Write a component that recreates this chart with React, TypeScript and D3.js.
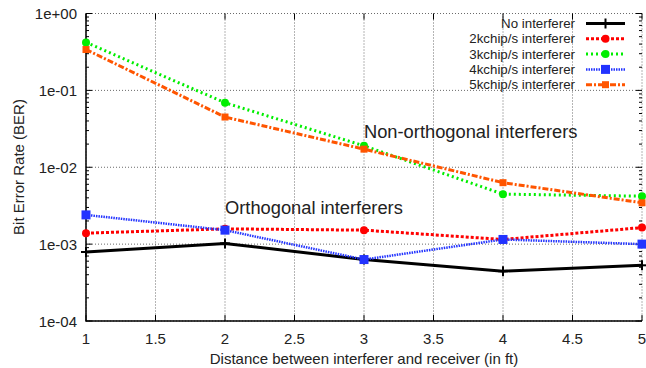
import * as d3 from 'd3';

const distances = [1, 2, 3, 4, 5];
const noInterferer = [7.9e-4, 1.02e-3, 6.3e-4, 4.45e-4, 5.3e-4];
const kchip2 = [1.39e-3, 1.58e-3, 1.52e-3, 1.15e-3, 1.64e-3];
const kchip3 = [0.42, 0.069, 0.019, 4.47e-3, 4.2e-3];
const kchip4 = [2.4e-3, 1.52e-3, 6.3e-4, 1.15e-3, 1.0e-3];
const kchip5 = [0.34, 0.045, 0.0172, 6.3e-3, 3.45e-3];
const xTicks = [1, 1.5, 2, 2.5, 3, 3.5, 4, 4.5, 5];
const yTicks = [1, 1e-1, 1e-2, 1e-3, 1e-4];
const yTickLabels = ['1e+00', '1e-01', '1e-02', '1e-03', '1e-04'];

type Series = {
  name: string;
  values: number[];
  color: string;
  width: number;
  dash: string;
  marker: 'plus' | 'circle' | 'square' | 'smallsquare';
};

const series: Series[] = [
  { name: 'No interferer', values: noInterferer, color: '#000000', width: 3, dash: '', marker: 'plus' },
  { name: '2kchip/s interferer', values: kchip2, color: '#ff0000', width: 3, dash: '3,2', marker: 'circle' },
  { name: '3kchip/s interferer', values: kchip3, color: '#00ee00', width: 3, dash: '2,3', marker: 'circle' },
  { name: '4kchip/s interferer', values: kchip4, color: '#2233ff', width: 2.5, dash: '1.5,1', marker: 'square' },
  { name: '5kchip/s interferer', values: kchip5, color: '#ff5500', width: 3, dash: '6,2,2,2', marker: 'smallsquare' },
];

const W = 646;
const H = 368;
const left = 86;
const right = 642;
const top = 13.5;
const bottom = 321;
const FONT = '"Liberation Sans", Arial, sans-serif';

function Marker({ type, x, y, color }: { type: Series['marker']; x: number; y: number; color: string }) {
  if (type === 'plus') {
    return (
      <g stroke={color} strokeWidth={2}>
        <line x1={x - 5} x2={x + 5} y1={y} y2={y} />
        <line x1={x} x2={x} y1={y - 5} y2={y + 5} />
      </g>
    );
  }
  if (type === 'circle') return <circle cx={x} cy={y} r={4} fill={color} />;
  if (type === 'square') return <rect x={x - 4.5} y={y - 4.5} width={9} height={9} fill={color} />;
  return <rect x={x - 3.5} y={y - 3.5} width={7} height={7} fill={color} />;
}

export default function App() {
  const x = d3.scaleLinear().domain([1, 5]).range([left, right]);
  const y = d3.scaleLog().domain([1e-4, 1]).range([bottom, top]);

  const line = d3
    .line<number>()
    .x((_, i) => x(distances[i]))
    .y((d) => y(d));

  const minorTicks: number[] = [];
  for (let e = -4; e < 0; e++) {
    for (let m = 2; m <= 9; m++) minorTicks.push(m * Math.pow(10, e));
  }

  const legendTextX = 575;
  const legendLineX1 = 586;
  const legendLineX2 = 625;
  const legendY0 = 23.5;
  const legendStep = 15.3;

  return (
    <div style={{ position: 'fixed', left: 0, top: 0 }}>
      <svg width={W} height={H} viewBox={`0 0 ${W} ${H}`} style={{ display: 'block', background: '#fff' }}>
        {/* grid */}
        <g stroke="#444" strokeWidth={0.8} strokeDasharray="1,2">
          {xTicks.map((t) => (
            <line key={'gx' + t} x1={x(t)} x2={x(t)} y1={top} y2={bottom} />
          ))}
          {yTicks.map((t) => (
            <line key={'gy' + t} x1={left} x2={right} y1={y(t)} y2={y(t)} />
          ))}
        </g>

        {/* ticks */}
        <g stroke="#000" strokeWidth={1}>
          {xTicks.map((t) => (
            <g key={'tx' + t}>
              <line x1={x(t)} x2={x(t)} y1={bottom} y2={bottom - 6} />
              <line x1={x(t)} x2={x(t)} y1={top} y2={top + 6} />
            </g>
          ))}
          {yTicks.map((t) => (
            <g key={'ty' + t}>
              <line x1={left} x2={left + 6} y1={y(t)} y2={y(t)} />
              <line x1={right} x2={right - 6} y1={y(t)} y2={y(t)} />
            </g>
          ))}
          {minorTicks.map((t) => (
            <g key={'tm' + t}>
              <line x1={left} x2={left + 3} y1={y(t)} y2={y(t)} />
              <line x1={right} x2={right - 3} y1={y(t)} y2={y(t)} />
            </g>
          ))}
        </g>

        {/* border: left and bottom */}
        <path d={`M${left},${top}V${bottom}H${right}`} fill="none" stroke="#000" strokeWidth={1.5} />

        {/* tick labels */}
        <g fontFamily={FONT} fontSize={15} fill="#222">
          {yTicks.map((t, i) => (
            <text key={'ly' + t} x={77} y={y(t)} textAnchor="end" dominantBaseline="central">
              {yTickLabels[i]}
            </text>
          ))}
          {xTicks.map((t) => (
            <text key={'lx' + t} x={x(t)} y={338} textAnchor="middle" dominantBaseline="central">
              {String(t)}
            </text>
          ))}
        </g>

        {/* axis titles */}
        <text x={364} y={358} fontFamily={FONT} fontSize={15} fill="#222" textAnchor="middle" dominantBaseline="central">
          Distance between interferer and receiver (in ft)
        </text>
        <text
          transform={`translate(18,${167}) rotate(-90)`}
          fontFamily={FONT}
          fontSize={15}
          fill="#222"
          textAnchor="middle"
          dominantBaseline="central"
        >
          Bit Error Rate (BER)
        </text>

        {/* series */}
        {series.map((s) => (
          <g key={s.name}>
            <path d={line(s.values) ?? ''} fill="none" stroke={s.color} strokeWidth={s.width} strokeDasharray={s.dash || undefined} />
            {s.values.map((v, i) => (
              <Marker key={i} type={s.marker} x={x(distances[i])} y={y(v)} color={s.color} />
            ))}
          </g>
        ))}

        {/* annotations */}
        <text x={364} y={131} fontFamily={FONT} fontSize={18.3} fill="#222" dominantBaseline="central">
          Non-orthogonal interferers
        </text>
        <text x={225} y={207} fontFamily={FONT} fontSize={18.3} fill="#222" dominantBaseline="central">
          Orthogonal interferers
        </text>

        {/* legend */}
        {series.map((s, i) => {
          const ly = legendY0 + i * legendStep;
          return (
            <g key={'lg' + s.name}>
              <text x={legendTextX} y={ly} fontFamily={FONT} fontSize={13.3} fill="#222" textAnchor="end" dominantBaseline="central">
                {s.name}
              </text>
              <line x1={legendLineX1} x2={legendLineX2} y1={ly} y2={ly} stroke={s.color} strokeWidth={s.width} strokeDasharray={s.dash || undefined} />
              <Marker type={s.marker} x={(legendLineX1 + legendLineX2) / 2} y={ly} color={s.color} />
            </g>
          );
        })}
      </svg>
    </div>
  );
}
